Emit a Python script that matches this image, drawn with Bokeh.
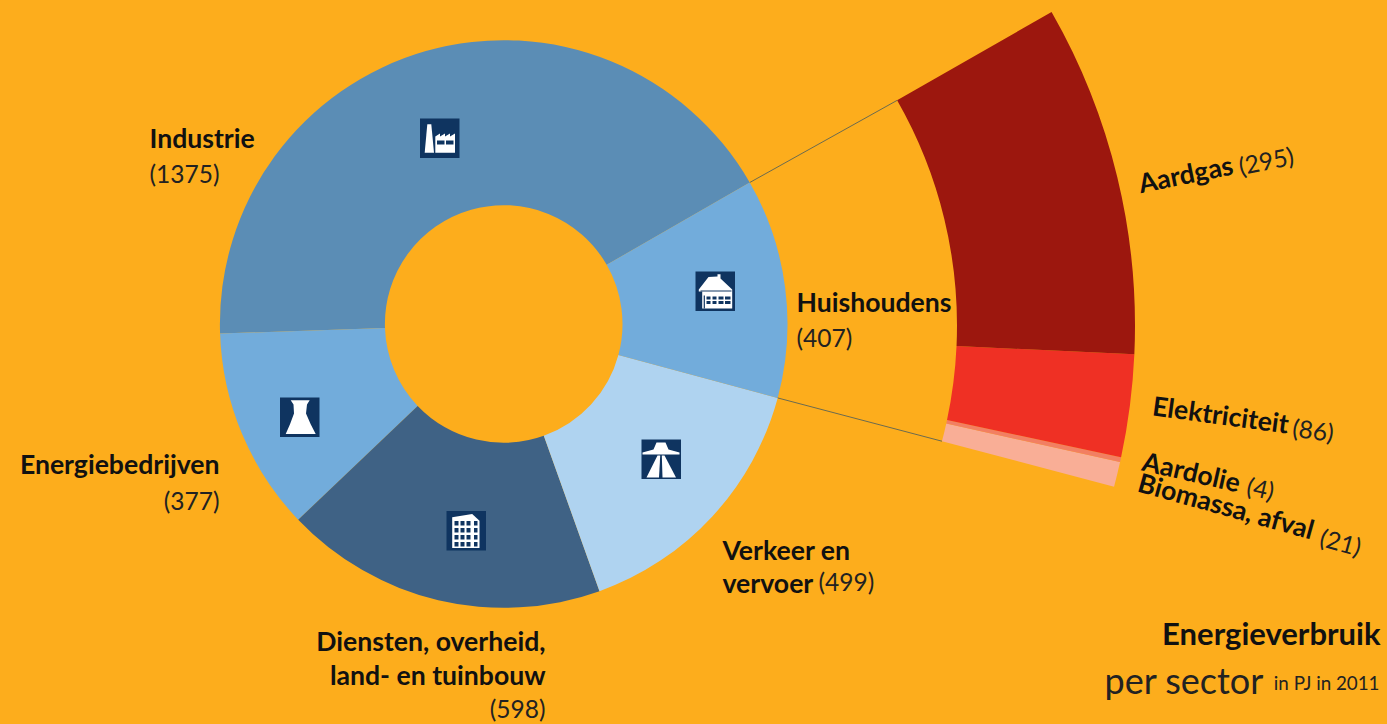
import math
from bokeh.plotting import figure
from bokeh.models import Range1d
from bokeh.core.properties import value
from bokeh.embed import file_html
from bokeh.resources import INLINE

# --- data ---
sectors = ["Industrie", "Energiebedrijven", "Diensten, overheid, land- en tuinbouw", "Verkeer en vervoer", "Huishoudens"]
sector_values = [1375, 377, 598, 499, 407]
sector_colors = ["#5B8DB5", "#72ACDB", "#3F6285", "#AFD3F0", "#72ACDB"]
carriers = ["Biomassa, afval", "Aardolie", "Elektriciteit", "Aardgas"]
carrier_values = [21, 4, 86, 295]
carrier_colors = ["#F9AE96", "#F27F62", "#EF3024", "#9C170E"]

BG = "#FDAD1C"
INK = "#0F3460"
TEXT = "#111111"
FONT = "Lato"
W, H = 1387, 724
CX, CY = 503.2, 724 - 323.5
R_IN, R_OUT = 118.8, 283.8
CX2, CY2 = 503.5, 724 - 325
R2_IN, R2_OUT = 453, 631
START = math.radians(29.9)
CARRIER_START = math.radians(-14.8)
CARRIER_END = math.radians(29.8)


def Y(y):
    return H - y


p = figure(width=W, height=H, x_range=Range1d(0, W), y_range=Range1d(0, H),
           x_axis_type=None, y_axis_type=None, toolbar_location=None,
           output_backend="svg", background_fill_color=BG, border_fill_color=BG,
           outline_line_color=None, min_border=0)
p.grid.visible = False

# main ring: runs counter-clockwise from the top of Huishoudens
total = sum(sector_values)
a = START
huis_start = huis_end = None
for name, v, c in zip(sectors, sector_values, sector_colors):
    b = a + v / total * 2 * math.pi
    p.annular_wedge(x=[CX], y=[CY], inner_radius=R_IN, outer_radius=R_OUT, start_angle=a, end_angle=b,
                    fill_color=c, line_color=None)
    if name == "Huishoudens":
        huis_start, huis_end = a, b
    a = b

# exploded ring for Huishoudens
span = CARRIER_END - CARRIER_START
ctot = sum(carrier_values)
a = CARRIER_START
for v, c in zip(carrier_values, carrier_colors):
    b = a + v / ctot * span
    p.annular_wedge(x=[CX2], y=[CY2], inner_radius=R2_IN, outer_radius=R2_OUT, start_angle=a, end_angle=b,
                    fill_color=c, line_color=None)
    a = b

# connectors
for ang, ang2 in ((START, CARRIER_END), (huis_start, CARRIER_START)):
    p.line([CX + R_OUT * math.cos(ang), CX2 + R2_IN * math.cos(ang2)],
           [CY + R_OUT * math.sin(ang), CY2 + R2_IN * math.sin(ang2)], line_color="#6B6B50", line_width=1)

# icons: white shapes on a dark square, in px relative to the square's top-left
ICON = 39.5


def icon(x0, y0, white, dark=()):
    p.quad(left=[x0], right=[x0 + ICON], top=[Y(y0)], bottom=[Y(y0 + ICON)], fill_color=INK, line_color=None)
    for pts in white:
        p.patch([x0 + q[0] for q in pts], [Y(y0 + q[1]) for q in pts], fill_color="white", line_color=None)
    for pts in dark:
        p.patch([x0 + q[0] for q in pts], [Y(y0 + q[1]) for q in pts], fill_color=INK, line_color=None)


def rect(x1, y1, x2, y2):
    return [(x1, y1), (x2, y1), (x2, y2), (x1, y2)]


# factory
icon(419.5, 118,
     [[(4.7, 34.3), (7.3, 5.7), (11.3, 5.7), (14, 34.3)],
      [(15.3, 34.3), (15.3, 18), (20, 15), (20, 18), (25, 15), (25, 18), (30, 15), (30, 18), (35, 15), (35, 34.3)]],
     [rect(17, 22, 24.5, 26), rect(26, 22, 33.5, 26)])
# house
icon(695, 271,
     [[(3.3, 18), (13, 5.5), (22, 5), (22, 2.7), (25, 2.7), (25, 7), (36.7, 18), (36.7, 37), (6.7, 37), (6.7, 20), (3.3, 20)]],
     [rect(11, 25, 15, 28), rect(17, 25, 21, 28), rect(11, 29.5, 15, 32.5), rect(17, 29.5, 21, 32.5),
      rect(23, 25, 28, 28), rect(29.5, 25, 35, 28), rect(23, 29.5, 28, 32.5), rect(29.5, 29.5, 35, 32.5),
      [(5, 19), (36, 19), (36, 20), (5, 20)], rect(8.2, 24, 9.4, 37)])
# cooling tower
icon(279.5, 397,
     [[(10.7, 2.7), (29.7, 2.7), (27, 7), (26, 16), (30.7, 26.7), (35.7, 36.5),
       (5.7, 36.5), (10, 26.7), (14, 16), (13.5, 7)]])
# office building
bw = [[(5.7, 6.3), (25.7, 3), (33, 9.7), (33, 37), (5.7, 37)]]
bd = []
for row in (10, 17, 24, 31):
    for col in (8, 14, 20):
        bd.append(rect(col, row, col + 4, row + 4.5))
    bd.append(rect(27.5, row, 31, row + 4.5))
icon(446, 510.5, bw, bd)
# road
icon(641, 439,
     [[(5, 38), (16, 16), (18.7, 16), (17.5, 38)], [(21, 38), (20.3, 16), (23, 16), (34.5, 38)],
      [(1, 13), (12, 10), (15, 3), (24, 3), (27, 10), (38, 13), (38, 15), (1, 15)]])


# --- texts ---
def label(t, x, y, size, bold=False, align="left", deg=0.0):
    th = math.radians(deg)
    d = 0.35 * size  # the svg backend draws alphabetic text a little low
    sx, sy = x - d * math.sin(th), y - d * math.cos(th)
    p.text(x=[sx], y=[Y(sy)], text=[t], angle=[th], text_align=align, text_baseline="alphabetic",
           text_font=value(FONT), text_font_style="bold" if bold else "normal", text_font_size=f"{size}px",
           text_color=TEXT if bold else "#222222")


bold_x = [149, 796, 219, 545, 545, 722, 722]
bold_y = [147, 311, 473, 650, 684, 559, 592]
bold_t = ["Industrie", "Huishoudens", "Energiebedrijven", "Diensten, overheid,", "land- en tuinbouw", "Verkeer en", "vervoer"]
bold_a = ["left", "left", "right", "right", "right", "left", "left"]
reg_x = [149, 796, 219, 545, 818]
reg_y = [182, 346, 508.5, 717, 590]
reg_t = ["(1375)", "(407)", "(377)", "(598)", "(499)"]
reg_a = ["left", "left", "right", "right", "left"]

for x, y, t, al in zip(bold_x, bold_y, bold_t, bold_a):
    label(t, x, y, 26.6, True, al)
for x, y, t, al in zip(reg_x, reg_y, reg_t, reg_a):
    label(t, x, y, 24.5, False, al)

rot_bold = [("Aardgas", 1140, 192, 11.5), ("Elektriciteit", 1151, 414, -7.7), ("Aardolie", 1140.5, 469, -13),
            ("Biomassa, afval", 1136, 490, -15.5)]
rot_reg = [("(295)", 1240, 174, 11.5), ("(86)", 1291, 435, -7.7), ("(4)", 1245, 493, -13), ("(21)", 1318, 544, -15.5)]
for t, x, y, d in rot_bold:
    label(t, x, y, 26.6, True, "left", d)
for t, x, y, d in rot_reg:
    label(t, x, y, 24.5, False, "left", d)

# title
label("Energieverbruik", 1380, 643, 31, True, "right")
label("per sector", 1104, 692, 36, False, "left")
label("in PJ in 2011", 1379, 689, 18.8, False, "right")

html = file_html(p, INLINE)
html = html.replace("</head>", f"<style>html,body{{margin:0;padding:0;background:{BG};overflow:hidden}}</style></head>", 1)
open("out.html", "w").write(html)
